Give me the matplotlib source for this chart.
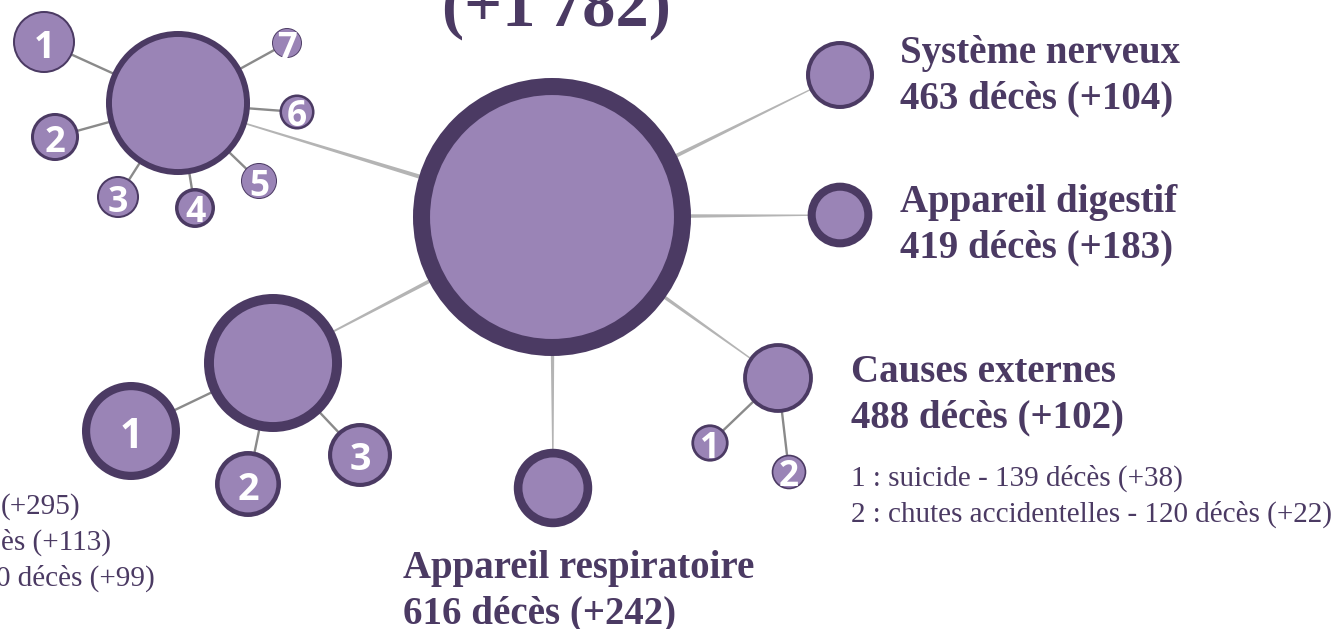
import numpy as np
import matplotlib.pyplot as plt
from matplotlib.patches import Circle, Polygon

# ---- données (décès et hausse) ----
total_hausse = 1782
total_deces = 7740          # estimé d'après la taille du cercle central

cat_noms = ['haut_gauche', 'bas_gauche', 'Appareil respiratoire',
            'Système nerveux', 'Appareil digestif', 'Causes externes']
cat_deces = [2077, 1907, 616, 463, 419, 488]
cat_hausse = [330, 510, 242, 104, 183, 102]

hg_deces = [385, 231, 177, 160, 130, 123, 90]
hg_hausse = [48, 54, 32, 51, 14, 33, 11]

bg_deces = [962, 436, 410]
bg_hausse = [295, 113, 99]
bg_textes = ['(+295)', 'ès (+113)', '0 décès (+99)']   # coupés à gauche

ext_noms = ['suicide', 'chutes accidentelles']
ext_deces = [139, 120]
ext_hausse = [38, 22]

# ---- mise en page (pixels) ----
centre_xy = (552, 217)
cat_xy = [(178, 103), (273, 363), (553, 488), (840, 75), (840, 215), (778, 378)]
hg_xy = [(44, 42), (55, 137), (118, 197), (195, 208), (259, 181), (297, 112), (287, 43)]
bg_xy = [(131, 431), (248, 484), (360, 455)]
ext_xy = [(710, 443), (789, 472)]

K = 1.58  # rayon = K * sqrt(décès)
FOND = '#9a84b6'
BORD = '#4b3a63'
TEXTE = '#4b3a63'
SERIF = 'Liberation Serif'

fig = plt.figure(figsize=(13.44, 6.29), dpi=100)
ax = fig.add_axes([0, 0, 1, 1])
ax.set_xlim(0, 1344)
ax.set_ylim(629, 0)
ax.set_aspect('equal')
ax.axis('off')


def rayon(v):
    return K * np.sqrt(v)


def noeud(xy, deces, hausse, chiffre=None):
    r = rayon(deces)
    r_in = rayon(deces - hausse)
    ax.add_patch(Circle(xy, r, fc=BORD, ec='none', zorder=3))
    ax.add_patch(Circle(xy, r_in, fc=FOND, ec='none', zorder=4))
    if chiffre is not None:
        fs = 23 + 0.13 * r
        ax.text(xy[0], xy[1] + 1, str(chiffre), color='white', fontsize=fs,
                fontfamily='Open Sans', fontweight='bold',
                ha='center', va='center_baseline', zorder=5)


def lien_effile(a, b, w0=6.0, w1=0.8):
    a, b = np.array(a, float), np.array(b, float)
    d = (b - a) / np.linalg.norm(b - a)
    n = np.array([-d[1], d[0]])
    pts = [a + n * w0 / 2, b + n * w1 / 2, b - n * w1 / 2, a - n * w0 / 2]
    ax.add_patch(Polygon(pts, closed=True, fc='#b4b4b4', ec='none', zorder=1))


def lien(a, b):
    ax.plot([a[0], b[0]], [a[1], b[1]], color='#8a8a8a', lw=1.7, zorder=2)


# liens principaux
for xy in cat_xy:
    lien_effile(centre_xy, xy)

# sous-groupes
for xy in hg_xy:
    lien(cat_xy[0], xy)
for xy in bg_xy:
    lien(cat_xy[1], xy)
for xy in ext_xy:
    lien(cat_xy[5], xy)

noeud(centre_xy, total_deces, total_hausse)
for xy, d, h in zip(cat_xy, cat_deces, cat_hausse):
    noeud(xy, d, h)
for i, (xy, d, h) in enumerate(zip(hg_xy, hg_deces, hg_hausse)):
    noeud(xy, d, h, i + 1)
for i, (xy, d, h) in enumerate(zip(bg_xy, bg_deces, bg_hausse)):
    noeud(xy, d, h, i + 1)
for i, (xy, d, h) in enumerate(zip(ext_xy, ext_deces, ext_hausse)):
    noeud(xy, d, h, i + 1)

# titre (coupé en haut)
ax.text(556, 26, '(+{:,})'.format(total_hausse).replace(',', '\u202f'),
        fontsize=48, fontfamily=[SERIF, 'DejaVu Serif'], fontweight='bold',
        color=TEXTE, ha='center', va='baseline')

# étiquettes des catégories
etiq_pos = {2: (403, 578), 3: (900, 63), 4: (900, 212), 5: (851, 382)}
for i, (x, y) in etiq_pos.items():
    ax.text(x, y, cat_noms[i], fontsize=28, fontfamily=SERIF, fontweight='bold',
            color=TEXTE, va='baseline')
    ax.text(x, y + 45, f'{cat_deces[i]} décès (+{cat_hausse[i]})', fontsize=28,
            fontfamily=SERIF, fontweight='bold', color=TEXTE, va='baseline')

for i, (nom, d, h) in enumerate(zip(ext_noms, ext_deces, ext_hausse)):
    ax.text(851, 486 + 36 * i, f'{i + 1} : {nom} - {d} décès (+{h})', fontsize=21,
            fontfamily=SERIF, color=TEXTE, va='baseline')

for i, (t, xe) in enumerate(zip(bg_textes, [80, 111, 155])):
    ax.text(xe, 514 + 36 * i, t, fontsize=21, fontfamily=SERIF, color=TEXTE,
            ha='right', va='baseline')

fig.savefig('out.png', dpi=100, facecolor='white')
